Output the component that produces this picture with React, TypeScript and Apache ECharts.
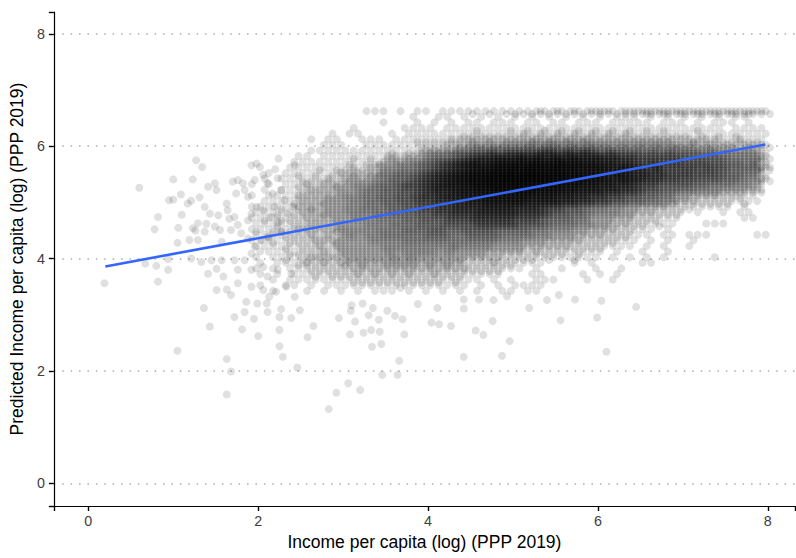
import React, { useEffect, useRef } from "react";
import * as echarts from "echarts";

// ---------- texts & ticks ----------
const xTitle = "Income per capita (log) (PPP 2019)";
const yTitle = "Predicted Income per capita (log) (PPP 2019)";
const xTickValues = [0, 2, 4, 6, 8];
const yTickValues = [0, 2, 4, 6, 8];

// ---------- fitted regression line (end points) ----------
const fitIncome = [0.2, 7.97];
const fitPredicted = [3.86, 6.03];

// ---------- dense cloud: estimated number of overlapping observations per cell ----------
// columns: income 2.0, 2.1, ... 8.0 ; rows: predicted 6.6, 6.5, ... 3.4 (base-36 counts)
const cloudIncomeStart = 2.0;
const cloudPredictedTop = 6.6;
const cloudStep = 0.1;
const cloudRows = [
  "00000 00000 00011 10101 10111 21212 22232 32323 33233 34343 43434 34343 2",
  "00000 00000 00000 00001 00110 10101 01010 10101 01011 10101 01010 10110 0",
  "00000 00000 00000 10001 01010 11011 10110 11011 10111 11011 10101 11010 0",
  "00000 00000 00100 00011 11011 12111 21212 12121 21212 12121 11211 10111 1",
  "00000 00001 01100 01011 11112 22222 23232 32323 23232 22222 21212 12111 1",
  "00000 00101 10011 10112 22233 34343 44454 54545 44444 44444 33433 22322 1",
  "00000 00011 10011 11112 22334 56566 66767 76767 66565 65656 55454 44343 2",
  "00000 00111 11111 12122 45567 788a8 aaaac cacac a8a88 87878 77767 55555 2",
  "00000 11011 12121 34344 6778a ceegg gigig igigg geecc aaaaa 98888 76666 2",
  "00000 11111 12122 44556 78ace gigik kkkmk kmkki iggee cacaa a9998 87767 3",
  "00001 11212 23233 55667 8aceg ikkmm omoom ommkk kigig eceaa aa9a9 87777 3",
  "00101 21212 33434 66778 acegi kmmoo qoqqo oommk kigig eecca aa999 87766 2",
  "01011 22232 34445 6778a cegik mmooq qqqqo oommk kigig eccaa 99888 77655 2",
  "10101 23233 44556 778aa cegii kmmoo oooom mmkki iggee caa88 88776 66554 1",
  "01011 23333 44566 7788a ceegi ikkmm mmmkk kiigg geecc a8877 66555 44433 0",
  "10111 33334 45566 7788a ccegg iikkk kkkii iggee ccaa8 87766 44333 22211 0",
  "01112 33344 45566 7788a accee ggiii iiggg geecc aa887 76655 33222 21211 0",
  "11121 33434 45566 67788 aacce eeggg geeec aa887 66554 43332 22111 11010 0",
  "11212 33344 45556 67778 8aacc ceeee eccca 88776 55544 33222 10100 10110 0",
  "12122 23333 44555 66677 888aa acccc caaa8 77766 44433 22211 10000 00011 0",
  "11212 23333 44455 56667 77888 8aaaa a8887 66655 44332 21211 00011 10000 0",
  "21222 33333 55555 66677 78877 88887 77766 55544 33322 11101 00000 00000 0",
  "12122 23232 45455 66666 77766 77776 66655 44433 32221 11011 01110 00001 1",
  "11212 22333 44445 55566 66666 66665 55444 33332 22211 10101 00100 00000 0",
  "11121 22323 44444 55555 55565 55544 44333 33222 21111 01010 01000 00000 0",
  "01112 22232 34444 45455 55454 44433 33232 22121 11010 01001 00000 00000 0",
  "10111 23333 34444 45454 44444 33332 22212 11211 10101 01010 00001 00000 0",
  "01011 23232 34343 34444 34343 22232 21111 00010 10000 01100 00000 00000 0",
  "10101 12222 23333 33333 33333 22221 11010 01000 10010 00000 00000 00000 0",
  "01010 11212 22323 23232 23222 11111 00011 00001 01010 00000 00000 00000 0",
  "00101 11111 12222 22222 22121 11010 10011 10001 00100 00000 00000 00000 0",
  "01001 10101 11111 11211 11111 10101 01111 00000 00000 00000 00000 00000 0",
  "00100 01010 10101 11010 10101 01001 10110 00000 00000 00000 00000 00000 0",
];

// ---------- individual observations outside the dense cloud ----------
const leftTailPoints: [number, number][] = [
  [0.19, 3.56], [0.6, 5.26], [0.67, 3.91], [0.78, 4.52], [0.8, 3.87], [0.82, 4.74], [0.82, 3.59],
  [0.94, 3.8], [0.94, 3.99], [0.95, 5.04], [1.0, 5.05], [1.0, 5.41], [1.05, 4.28], [1.06, 4.55],
  [1.09, 5.14], [1.1, 4.78], [1.17, 4.98], [1.21, 5.03], [1.23, 5.41], [1.27, 5.75], [1.31, 5.09],
  [1.34, 5.63], [1.23, 4.54], [1.26, 4.5], [1.29, 4.63], [1.19, 4.33], [1.29, 4.33], [1.21, 4.0],
  [1.33, 3.94],
];

const middleSpreadPoints: [number, number][] = [
  [1.41, 5.28], [1.49, 5.34], [1.51, 5.22], [1.37, 4.92], [1.43, 4.8], [1.53, 4.77], [1.39, 4.62],
  [1.49, 4.57], [1.55, 4.51], [1.37, 4.48], [1.57, 4.3], [1.7, 5.37], [1.76, 5.4], [1.82, 5.34],
  [1.74, 5.16], [1.84, 5.22], [1.88, 5.1], [1.63, 4.98], [1.64, 4.86], [1.66, 4.71], [1.72, 4.74],
  [1.76, 4.6], [1.68, 4.51], [1.8, 4.45], [1.88, 4.68], [1.92, 4.8], [1.98, 4.92], [2.06, 4.86],
  [1.96, 5.4], [2.02, 5.63], [2.06, 5.49], [2.11, 5.34], [2.17, 5.16], [2.23, 5.43], [2.27, 5.22],
  [2.31, 5.04], [2.19, 4.92], [2.15, 4.74], [2.23, 4.65], [2.35, 4.8], [2.41, 4.92], [2.27, 4.48],
  [2.11, 4.39], [2.04, 4.33], [1.96, 4.21], [1.88, 4.36], [1.92, 4.09], [1.84, 3.97], [1.72, 3.97],
  [1.57, 3.97], [1.45, 3.97], [1.51, 3.82], [1.41, 3.73], [1.59, 3.68], [1.76, 3.8], [1.92, 3.8],
  [2.06, 3.85], [2.11, 3.68], [2.23, 3.8], [2.39, 3.73], [2.33, 3.97], [1.76, 3.56], [1.92, 3.5],
  [2.06, 3.44], [1.51, 3.44], [1.63, 3.45], [1.68, 3.35], [2.21, 3.41], [2.33, 3.5], [1.92, 5.66],
  [1.98, 5.69], [2.24, 5.78], [2.2, 5.59], [2.43, 5.66],
];

const lowerTailPoints: [number, number][] = [
  [1.36, 3.12], [1.05, 2.36], [1.43, 2.79], [1.63, 2.21], [1.68, 1.99], [1.63, 1.58], [1.72, 2.96],
  [1.81, 2.74], [1.84, 3.05], [1.86, 3.23], [1.95, 2.93], [1.99, 3.2], [2.0, 2.62], [2.1, 3.2],
  [2.11, 3.05], [2.13, 3.32], [2.27, 3.1], [2.25, 2.96], [2.25, 2.73], [2.39, 2.94], [2.43, 3.32],
  [2.49, 3.08], [2.65, 2.8], [2.58, 2.6], [2.25, 2.44], [2.29, 2.25], [2.46, 2.06], [2.83, 1.32],
  [2.92, 1.61], [3.06, 1.78], [3.2, 1.66], [3.08, 2.65], [3.24, 2.68], [3.33, 2.73], [3.43, 2.7],
  [3.34, 2.43], [3.45, 2.48], [3.46, 1.93], [3.64, 1.93], [3.66, 2.18], [3.72, 2.65], [4.42, 2.25],
  [2.95, 2.94], [3.14, 2.88], [3.3, 2.99], [3.42, 2.91], [3.52, 3.07], [3.61, 2.98], [3.7, 2.92],
  [3.09, 3.07], [3.1, 3.17], [3.23, 3.2], [3.35, 3.12], [3.88, 3.19], [4.04, 2.86], [4.13, 2.83],
  [4.27, 2.8], [4.11, 3.12], [4.42, 3.11], [4.42, 3.27], [4.6, 3.27], [4.77, 3.26], [4.56, 2.72],
  [4.65, 2.64], [4.76, 2.89], [4.87, 2.27], [4.96, 2.53], [4.93, 3.33], [5.19, 3.12], [5.4, 3.26],
  [5.54, 3.35], [5.56, 2.9], [5.73, 3.27], [6.04, 3.25], [5.99, 2.95], [6.1, 2.34], [6.45, 3.14],
];

// ---------- styling ----------
const FONT = "'Liberation Sans', Arial, Helvetica, sans-serif";
const SINGLE_ALPHA = 0.12;
const SUB_OFFSETS = [
  [-0.025, 0.025],
  [0.025, -0.025],
  [0.025, 0.025],
  [-0.025, -0.025],
];
const X_MIN = -0.406;
const X_MAX = 8.32;
const Y_MIN = -0.405;
const Y_MAX = 8.39;

function round3(v: number) {
  return Math.round(v * 1000) / 1000;
}

function buildPoints() {
  const pts: any[] = [];
  cloudRows.forEach((row, i) => {
    const cells = row.replace(/\s+/g, "");
    for (let j = 0; j < cells.length; j++) {
      const n = parseInt(cells[j], 36);
      if (!n) continue;
      const cx = cloudIncomeStart + j * cloudStep - (i % 2) * (cloudStep / 2);
      const cy = cloudPredictedTop - i * cloudStep;
      // each cell is drawn as up to four sub-marks sharing its observations
      const marks = Math.min(n, 4);
      const alpha = 1 - Math.pow(1 - SINGLE_ALPHA, n / marks);
      for (let k = 0; k < marks; k++) {
        pts.push({
          value: [round3(cx + SUB_OFFSETS[k][0]), round3(cy + SUB_OFFSETS[k][1])],
          itemStyle: { opacity: alpha },
        });
      }
    }
  });
  [...leftTailPoints, ...middleSpreadPoints, ...lowerTailPoints].forEach(([x, y]) => {
    pts.push({ value: [x, y], itemStyle: { opacity: SINGLE_ALPHA } });
  });
  return pts;
}

export default function App() {
  const ref = useRef<HTMLDivElement>(null);

  useEffect(() => {
    if (!ref.current) return;
    const chart = echarts.init(ref.current, null, { renderer: "svg" });
    const axisLine = { show: true, onZero: false, lineStyle: { color: "#000", width: 1.2 } };
    const axisTick = { show: true, inside: false, length: 5, lineStyle: { color: "#000", width: 1.4 } };
    const labelBase = { color: "#3d3d3d", fontSize: 14.3, fontFamily: FONT };
    const nameStyle = { color: "#000", fontSize: 17.5, fontFamily: FONT };

    chart.setOption({
      animation: false,
      grid: { left: 52, right: 1, top: 12, bottom: 52, containLabel: false },
      xAxis: {
        type: "value",
        min: X_MIN,
        max: X_MAX,
        splitNumber: 5,
        axisLine,
        axisTick,
        axisLabel: { ...labelBase, margin: 8, customValues: xTickValues },
        splitLine: { show: false },
        name: xTitle,
        nameLocation: "middle",
        nameGap: 27,
        nameTextStyle: nameStyle,
      },
      yAxis: {
        type: "value",
        min: Y_MIN,
        max: Y_MAX,
        splitNumber: 5,
        axisLine,
        axisTick,
        axisLabel: { ...labelBase, margin: 9, customValues: yTickValues },
        splitLine: {
          show: true,
          showMinLine: false,
          showMaxLine: false,
          lineStyle: { color: "#ababab", width: 1.5, type: [1.5, 6.9] },
        },
        name: yTitle,
        nameLocation: "middle",
        nameGap: 24,
        nameTextStyle: nameStyle,
      },
      series: [
        {
          type: "scatter",
          data: buildPoints(),
          symbol: "circle",
          symbolSize: 8,
          large: false,
          largeThreshold: 1000000,
          progressive: 0,
          silent: true,
          itemStyle: { color: "#000", borderWidth: 0 },
          emphasis: { disabled: true },
          z: 2,
        },
        {
          type: "line",
          data: fitIncome.map((x, i) => [x, fitPredicted[i]]),
          symbol: "none",
          silent: true,
          lineStyle: { color: "#3366FF", width: 2.6 },
          z: 3,
        },
      ],
    });

    return () => chart.dispose();
  }, []);

  return (
    <div
      ref={ref}
      style={{ position: "absolute", left: 0, top: 0, width: 796, height: 558, background: "#fff" }}
    />
  );
}
